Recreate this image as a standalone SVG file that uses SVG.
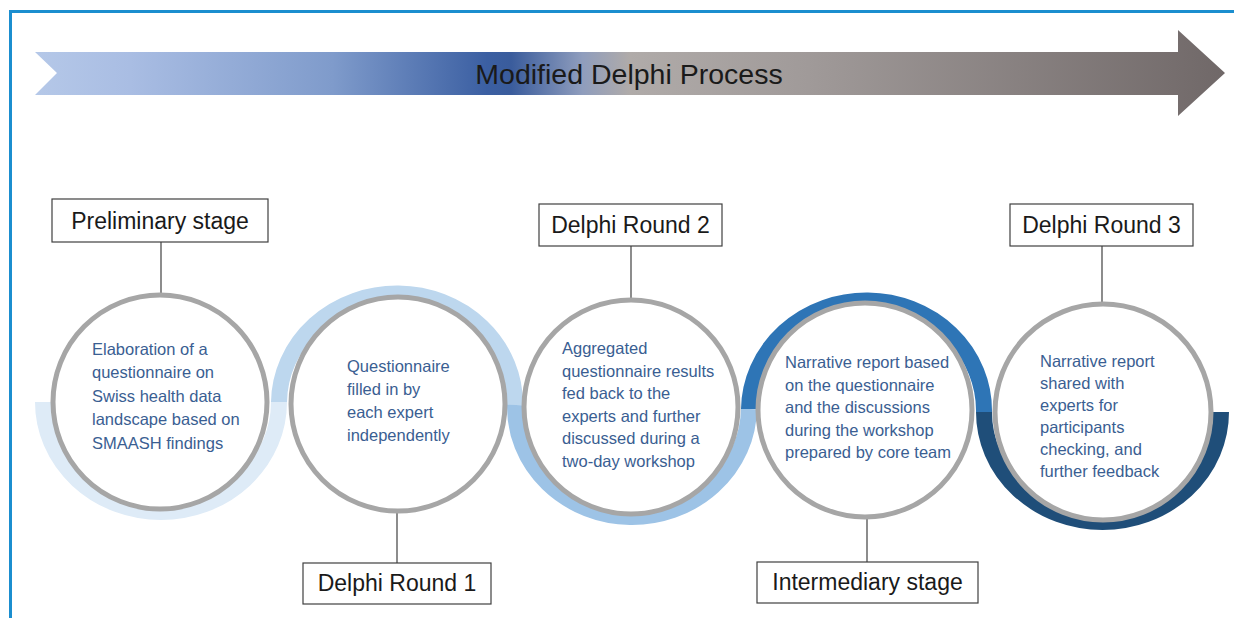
<svg xmlns="http://www.w3.org/2000/svg" width="1234" height="618" viewBox="0 0 1234 618">
  <defs>
    <linearGradient id="arrowGrad" gradientUnits="userSpaceOnUse" x1="35" y1="0" x2="1225" y2="0">
      <stop offset="0" stop-color="#b5c8e8"/>
      <stop offset="0.08" stop-color="#a9bde3"/>
      <stop offset="0.25" stop-color="#7f9bcb"/>
      <stop offset="0.38" stop-color="#3b5fa2"/>
      <stop offset="0.40" stop-color="#3a5c9c"/>
      <stop offset="0.46" stop-color="#8f9dbd"/>
      <stop offset="0.50" stop-color="#b0aba9"/>
      <stop offset="0.65" stop-color="#a09a99"/>
      <stop offset="1" stop-color="#706868"/>
    </linearGradient>
    <style>
      .ring { fill: #ffffff; stroke: #a6a6a6; stroke-width: 5; }
      .band { fill: none; stroke-width: 16; stroke-linecap: butt; }
      .box { fill: #ffffff; stroke: #404040; stroke-width: 1.2; }
      .lbl { font-family: "Liberation Sans", Arial, sans-serif; font-size: 23px; fill: #1a1a1a; text-anchor: middle; }
      .body { font-family: "Liberation Sans", Arial, sans-serif; font-size: 16.5px; fill: #3a5e92; }
      .conn { stroke: #404040; stroke-width: 1.2; fill: none; }
      .title { font-family: "Liberation Sans", Arial, sans-serif; font-size: 28.5px; fill: #1a1a1a; text-anchor: middle; }
    </style>
  </defs>

  <rect x="0" y="0" width="1234" height="618" fill="#ffffff"/>
  <path d="M10.5 618 V11.5 H1234" fill="none" stroke="#1b8ecf" stroke-width="3"/>

  <g id="banner">
    <polygon points="35,52 1178,52 1178,30 1225,73 1178,116 1178,95 35,95 57,73" fill="url(#arrowGrad)"/>
    <text class="title" x="629" y="84">Modified Delphi Process</text>
  </g>

  <g id="arcs">
    <path class="band" stroke="#deebf7" d="M43 402 A118 110 0 0 0 279 402"/>
    <path class="band" stroke="#bdd7ee" d="M279 402 A118 110 0 0 1 515 405"/>
    <path class="band" stroke="#9dc3e6" d="M515 405 A117 110 0 0 0 749 409"/>
    <path class="band" stroke="#2e75b6" d="M749 409 A117.5 110 0 0 1 984 412"/>
    <path class="band" stroke="#1f4e79" d="M984 412 A118.5 110 0 0 0 1221 412"/>
  </g>

  <g id="connectors">
    <line class="conn" x1="161" y1="242" x2="161" y2="297"/>
    <line class="conn" x1="397" y1="508" x2="397" y2="563"/>
    <line class="conn" x1="631" y1="246" x2="631" y2="303"/>
    <line class="conn" x1="867" y1="513" x2="867" y2="562"/>
    <line class="conn" x1="1102" y1="246" x2="1102" y2="306"/>
  </g>

  <g id="node-preliminary">
    <circle class="ring" cx="160" cy="402" r="107"/>
    <text class="body">
      <tspan x="92" y="355">Elaboration of a</tspan>
      <tspan x="92" y="378">questionnaire on</tspan>
      <tspan x="92" y="402">Swiss health data</tspan>
      <tspan x="92" y="425">landscape based on</tspan>
      <tspan x="92" y="449">SMAASH findings</tspan>
    </text>
  </g>

  <g id="node-round1">
    <circle class="ring" cx="398" cy="404" r="107"/>
    <text class="body">
      <tspan x="347" y="372">Questionnaire</tspan>
      <tspan x="347" y="395">filled in by</tspan>
      <tspan x="347" y="418">each expert</tspan>
      <tspan x="347" y="441">independently</tspan>
    </text>
  </g>

  <g id="node-round2">
    <circle class="ring" cx="631" cy="407" r="107"/>
    <text class="body">
      <tspan x="562" y="354">Aggregated</tspan>
      <tspan x="562" y="377">questionnaire results</tspan>
      <tspan x="562" y="399">fed back to the</tspan>
      <tspan x="562" y="422">experts and further</tspan>
      <tspan x="562" y="444">discussed during a</tspan>
      <tspan x="562" y="467">two-day workshop</tspan>
    </text>
  </g>

  <g id="node-intermediary">
    <circle class="ring" cx="865" cy="410" r="107"/>
    <text class="body">
      <tspan x="785" y="368">Narrative report based</tspan>
      <tspan x="785" y="391">on the questionnaire</tspan>
      <tspan x="785" y="413">and the discussions</tspan>
      <tspan x="785" y="436">during the workshop</tspan>
      <tspan x="785" y="458">prepared by core team</tspan>
    </text>
  </g>

  <g id="node-round3">
    <circle class="ring" cx="1103" cy="412" r="108"/>
    <text class="body">
      <tspan x="1040" y="367">Narrative report</tspan>
      <tspan x="1040" y="389">shared with</tspan>
      <tspan x="1040" y="411">experts for</tspan>
      <tspan x="1040" y="433">participants</tspan>
      <tspan x="1040" y="455">checking, and</tspan>
      <tspan x="1040" y="477">further feedback</tspan>
    </text>
  </g>

  <g id="label-preliminary">
    <rect class="box" x="52" y="199" width="216" height="43"/>
    <text class="lbl" x="160" y="229">Preliminary stage</text>
  </g>
  <g id="label-round1">
    <rect class="box" x="303" y="563" width="188" height="41"/>
    <text class="lbl" x="397" y="591">Delphi Round 1</text>
  </g>
  <g id="label-round2">
    <rect class="box" x="539" y="204" width="183" height="42"/>
    <text class="lbl" x="630.5" y="233">Delphi Round 2</text>
  </g>
  <g id="label-intermediary">
    <rect class="box" x="757" y="562" width="221" height="41"/>
    <text class="lbl" x="867.5" y="590">Intermediary stage</text>
  </g>
  <g id="label-round3">
    <rect class="box" x="1010" y="204" width="183" height="42"/>
    <text class="lbl" x="1101.5" y="233">Delphi Round 3</text>
  </g>
</svg>
